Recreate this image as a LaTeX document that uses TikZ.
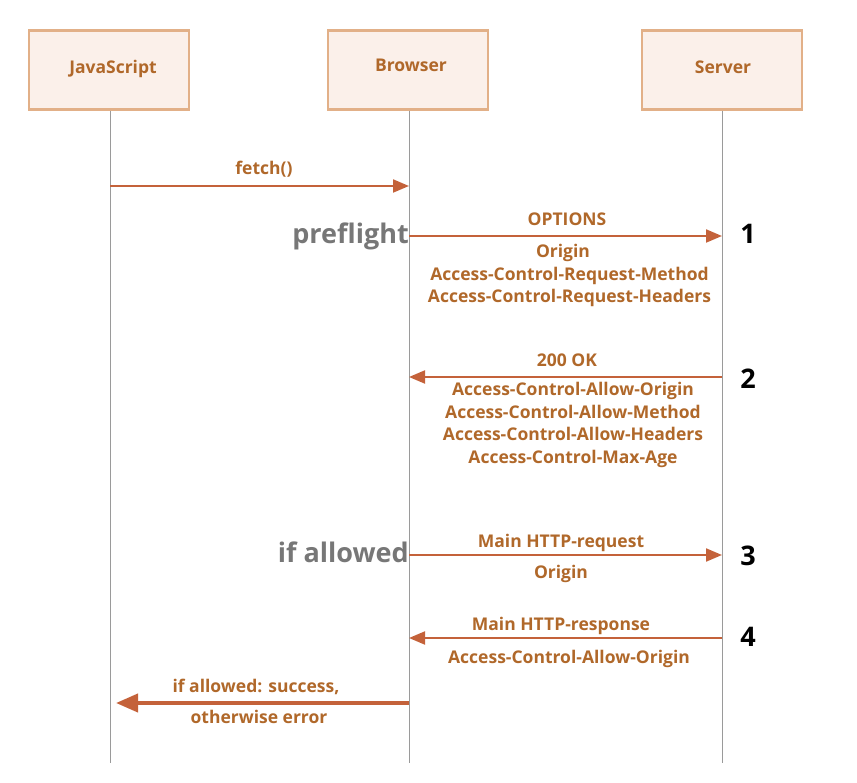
\documentclass[tikz,border=0pt]{standalone}
\usepackage{fontspec}
\setmainfont{Open Sans}
\usetikzlibrary{arrows.meta,positioning,calc}
\definecolor{boxfill}{HTML}{FBF0EA}
\definecolor{boxline}{HTML}{E2B088}
\definecolor{labeltext}{HTML}{B0682A}
\definecolor{msgline}{HTML}{C4623A}
\definecolor{lifeline}{HTML}{9A9A9A}
\definecolor{sidetext}{HTML}{777777}

\begin{document}
\begin{tikzpicture}[
        x=1pt,y=-1pt,
        font=\fontsize{17.5}{22.5}\selectfont\bfseries,
        >=Triangle,
        party/.style={rectangle,draw=boxline,line width=2.5pt,fill=boxfill,minimum width=160pt,minimum height=79pt,inner sep=0pt},
        partytext/.style={text=labeltext,anchor=base,inner sep=0pt},
        life/.style={draw=lifeline,line width=1pt},
        msg/.style={draw=msgline,line width=2pt,-{Triangle[length=16pt,width=13pt]}},
        bigmsg/.style={msg,line width=4pt,-{Triangle[length=22pt,width=18pt]}},
        lbl/.style={text=labeltext,anchor=base,inner sep=0pt},
        side/.style={text=sidetext,font=\fontsize{27}{30}\selectfont\bfseries,anchor=east,inner sep=0pt},
        num/.style={text=black,font=\fontsize{27}{30}\selectfont\bfseries,inner sep=0pt}
    ]
        \useasboundingbox (0,0) rectangle (857,783);

        % parties
        \node[party] (js) at (109,70) {};
        \node[party] (browser) at (408,70) {};
        \node[party] (server) at (722,70) {};
        \node[partytext] (jstext) at (113,74) {JavaScript};
        \node[partytext] (brtext) at (411,72) {Browser};
        \node[partytext] (svtext) at (723,74) {Server};

        % lifelines
        \coordinate (jsend) at (110,763);
        \coordinate (brend) at (409,763);
        \coordinate (svend) at (722,763);
        \draw[life] (js.south -| jsend) -- (jsend);
        \draw[life] (browser.south -| brend) -- (brend);
        \draw[life] (server.south -| svend) -- (svend);

        % message points
        \coordinate (js1) at (110,186);
        \coordinate (br1) at (409,186);
        \coordinate (br2) at (409,236);
        \coordinate (sv2) at (722,236);
        \coordinate (sv3) at (722,377);
        \coordinate (br3) at (409,377);
        \coordinate (br4) at (409,555);
        \coordinate (sv4) at (722,555);
        \coordinate (sv5) at (722,638);
        \coordinate (br5) at (409,638);
        \coordinate (br6) at (409,703);
        \coordinate (js6) at (116,703);

        % messages
        \draw[msg] (js1) -- (br1);
        \node[lbl] (fetch) at (264,175) {fetch()};

        \draw[msg] (br2) -- (sv2);
        \node[lbl] (options) at (567,226) {OPTIONS};
        \node[lbl] (req0) at (563,258) {Origin};
        \foreach \hdr [count=\i] in {Access-Control-Request-Method,Access-Control-Request-Headers}
            \node[lbl] (req\i) at (569.5,258+22.5*\i) {\hdr};
        \node[side] (preflight) at (br2) {preflight};
        \node[num] (n1) at (748,234) {1};

        \draw[msg] (sv3) -- (br3);
        \node[lbl] (ok) at (567,367) {200 OK};
        \foreach \hdr [count=\i from 0] in {Access-Control-Allow-Origin,Access-Control-Allow-Method,Access-Control-Allow-Headers,Access-Control-Max-Age}
            \node[lbl] (resp\i) at (573,396+22.5*\i) {\hdr};
        \node[num] (n2) at (748,379) {2};

        \draw[msg] (br4) -- (sv4);
        \node[lbl] (mainreq) at (561,547) {Main HTTP-request};
        \node[lbl] (orig) at (561,578) {Origin};
        \node[side] (allowed) at (409,552) {if allowed};
        \node[num] (n3) at (748,556) {3};

        \draw[msg] (sv5) -- (br5);
        \node[lbl] (mainresp) at (561,630) {Main HTTP-response};
        \node[lbl] (allow) at (569,663) {Access-Control-Allow-Origin};
        \node[num] (n4) at (748,637) {4};

        \draw[bigmsg] (br6) -- (js6);
        \node[lbl] (success) at (256,692) {if allowed: success,};
        \node[lbl] (err) at (259,723) {otherwise error};
    \end{tikzpicture}
\end{document}
